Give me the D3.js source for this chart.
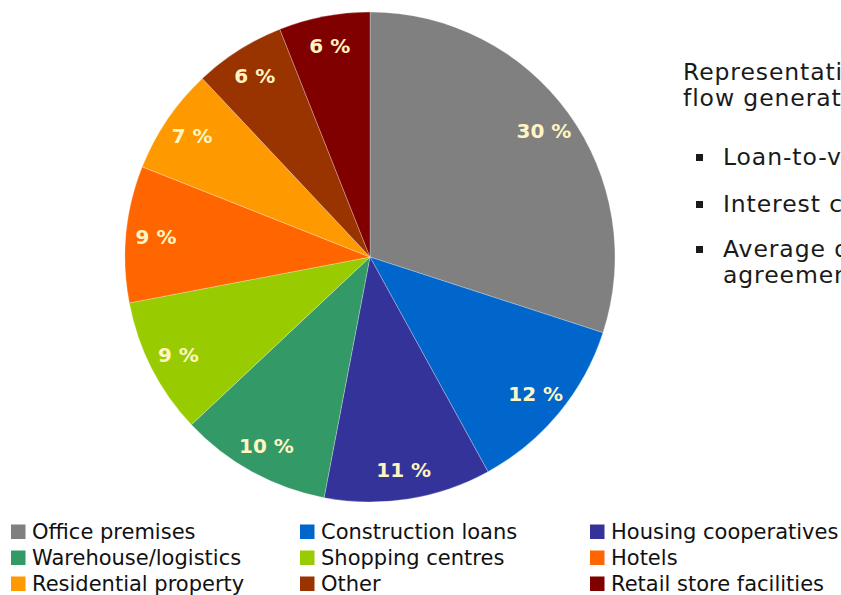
<!DOCTYPE html>
<html>
<head>
<meta charset="utf-8">
<script src="https://cdn.jsdelivr.net/npm/d3@7"></script>
<style>
  html, body { margin: 0; padding: 0; background: #fff; }
  svg { display: block; }
</style>
</head>
<body>
<svg id="chart" width="841" height="595"></svg>
<script>
// Loan portfolio split by property segment (per cent)
const categories = [
  "Office premises", "Construction loans", "Housing cooperatives",
  "Warehouse/logistics", "Shopping centres", "Hotels",
  "Residential property", "Other", "Retail store facilities"
];
const shares = [30, 12, 11, 10, 9, 9, 7, 6, 6];
const colours = [
  "#808080", "#0066CC", "#333399",
  "#339966", "#99CC00", "#FF6600",
  "#FF9900", "#993300", "#800000"
];

// Side note text, clipped by the page edge
const noteHeading = ["Representation of", "flow generation"];
const noteBullets = [
  ["Loan-to-value"],
  ["Interest cover"],
  ["Average duration of", "agreements"]
];

const svg = d3.select("#chart");
const cx = 370, cy = 257, radius = 245;

const pie = d3.pie().sort(null).value(d => d.value);
const arcs = pie(categories.map((c, i) => ({ name: c, value: shares[i], colour: colours[i] })));
const arc = d3.arc().innerRadius(0).outerRadius(radius);
const labelArc = d3.arc().innerRadius(215).outerRadius(215);

const g = svg.append("g").attr("transform", `translate(${cx},${cy})`);

g.selectAll("path.slice")
  .data(arcs)
  .join("path")
  .attr("class", "slice")
  .attr("d", arc)
  .attr("fill", d => d.data.colour)
  .attr("stroke", "rgba(255,255,255,0.45)")
  .attr("stroke-width", 0.6);

g.selectAll("text.pct")
  .data(arcs)
  .join("text")
  .attr("class", "pct")
  .attr("transform", d => `translate(${labelArc.centroid(d)})`)
  .attr("text-anchor", "middle")
  .attr("dy", "0.36em")
  .attr("font-family", "DejaVu Sans, Verdana, sans-serif")
  .attr("font-weight", "bold")
  .attr("font-size", 20)
  .attr("fill", "#FFF5C2")
  .text(d => `${d.data.value} %`);

// Legend: three columns, three rows
const legendCols = [11, 300, 590];
const legendRows = [539, 565, 591];
const legend = svg.append("g");
categories.forEach((name, i) => {
  const x = legendCols[i % 3];
  const y = legendRows[Math.floor(i / 3)];
  legend.append("rect")
    .attr("x", x).attr("y", y - 14.5)
    .attr("width", 14.5).attr("height", 14.5)
    .attr("fill", colours[i]);
  legend.append("text")
    .attr("x", x + 21).attr("y", y)
    .attr("font-family", "DejaVu Sans, Verdana, sans-serif")
    .attr("font-size", 21)
    .attr("fill", "#111")
    .text(name);
});

// Note at the right
const note = svg.append("g")
  .attr("font-family", "DejaVu Sans, Verdana, sans-serif")
  .attr("font-size", 23.5)
  .attr("letter-spacing", "0.9px")
  .attr("fill", "#1a1a1a");
noteHeading.forEach((line, i) => {
  note.append("text").attr("x", 683).attr("y", 80 + i * 26).text(line);
});
const bulletTops = [165, 212, 257];
noteBullets.forEach((lines, b) => {
  note.append("rect")
    .attr("x", 696).attr("y", bulletTops[b] - 11)
    .attr("width", 7).attr("height", 7)
    .attr("fill", "#1a1a1a");
  lines.forEach((line, j) => {
    note.append("text").attr("x", 723).attr("y", bulletTops[b] + j * 26).text(line);
  });
});
</script>
</body>
</html>
